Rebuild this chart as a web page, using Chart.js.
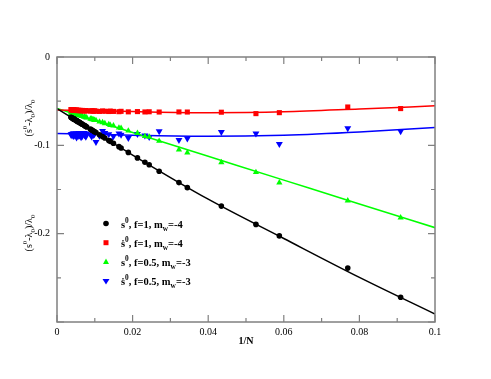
<!DOCTYPE html>
<html lang="en">
<head>
<meta charset="UTF-8">
<title>Relative shift vs 1/N</title>
<script src="https://cdn.jsdelivr.net/npm/chart.js"></script>
<style>
  body { margin: 0; background: #fff; }
  #chart { display: block; }
</style>
</head>
<body>
<canvas id="chart" width="491" height="379"></canvas>
<script>
// x = 1/N for the simulated sizes (N = 11, 13, 17, ... 271)
const invN = [
  0.09091, 0.07692, 0.05882, 0.05263, 0.04348, 0.03448, 0.03226, 0.02703,
  0.02439, 0.02326, 0.02128, 0.01887, 0.01695, 0.01639, 0.01493, 0.01408,
  0.01370, 0.01266, 0.01205, 0.01124, 0.01031, 0.00990, 0.00971, 0.00935,
  0.00917, 0.00885, 0.00787, 0.00763, 0.00730, 0.00719, 0.00671, 0.00662,
  0.00637, 0.00613, 0.00599, 0.00578, 0.00559, 0.00552, 0.00524, 0.00518,
  0.00508, 0.00503, 0.00474, 0.00448, 0.00441, 0.00437, 0.00429, 0.00418,
  0.00398, 0.00380, 0.00369
];

// s0, f=1, mw=-4
const sBlack = [
  -0.2720, -0.2390, -0.2025, -0.1895, -0.1688, -0.1479, -0.1422, -0.1294,
  -0.1220, -0.1192, -0.1142, -0.1080, -0.1030, -0.1015, -0.0977, -0.0955,
  -0.0945, -0.0917, -0.0901, -0.0880, -0.0856, -0.0845, -0.0840, -0.0830,
  -0.0826, -0.0817, -0.0792, -0.0785, -0.0777, -0.0774, -0.0761, -0.0759,
  -0.0752, -0.0746, -0.0742, -0.0737, -0.0732, -0.0730, -0.0723, -0.0721,
  -0.0718, -0.0717, -0.0709, -0.0703, -0.0701, -0.0700, -0.0698, -0.0695,
  -0.0690, -0.0685, -0.0682
];

// s-dot0, f=1, mw=-4
const sRed = [
  -0.0584, -0.0566, -0.0630, -0.0641, -0.0625, -0.0623, -0.0622, -0.0623,
  -0.0620, -0.0622, -0.0618, -0.0621, -0.0615, -0.0619, -0.0616, -0.0612,
  -0.0617, -0.0614, -0.0611, -0.0616, -0.0613, -0.0609, -0.0614, -0.0611,
  -0.0608, -0.0612, -0.0610, -0.0606, -0.0611, -0.0608, -0.0605, -0.0609,
  -0.0607, -0.0604, -0.0608, -0.0605, -0.0603, -0.0607, -0.0604, -0.0601,
  -0.0605, -0.0603, -0.0600, -0.0603, -0.0599, -0.0602, -0.0598, -0.0601,
  -0.0597, -0.0599, -0.0595
];

// s0, f=0.5, mw=-3
const sGreen = [
  -0.1819, -0.1626, -0.1422, -0.1305, -0.1193, -0.1083, -0.1049, -0.0951,
  -0.0905, -0.0897, -0.0862, -0.0835, -0.0806, -0.0801, -0.0778, -0.0772,
  -0.0762, -0.0752, -0.0740, -0.0733, -0.0716, -0.0715, -0.0709, -0.0708,
  -0.0701, -0.0700, -0.0686, -0.0684, -0.0677, -0.0679, -0.0669, -0.0671,
  -0.0665, -0.0663, -0.0660, -0.0659, -0.0655, -0.0657, -0.0651, -0.0652,
  -0.0648, -0.0650, -0.0644, -0.0643, -0.0640, -0.0642, -0.0638, -0.0639,
  -0.0635, -0.0634, -0.0630
];

// s-dot0, f=0.5, mw=-3
const sBlue = [
  -0.0841, -0.0807, -0.0985, -0.0867, -0.0849, -0.0924, -0.0940, -0.0841,
  -0.0905, -0.0888, -0.0872, -0.0917, -0.0879, -0.0865, -0.0898, -0.0943,
  -0.0874, -0.0859, -0.0838, -0.0892, -0.0963, -0.0871, -0.0884, -0.0856,
  -0.0899, -0.0878, -0.0867, -0.0902, -0.0885, -0.0861, -0.0893, -0.0876,
  -0.0908, -0.0869, -0.0888, -0.0859, -0.0895, -0.0880, -0.0870, -0.0912,
  -0.0884, -0.0866, -0.0890, -0.0877, -0.0895, -0.0864, -0.0881, -0.0870,
  -0.0889, -0.0873, -0.0880
];

// fitted curves at these x
const fitX = [0, 0.02, 0.04, 0.06, 0.08, 0.1];
const fitBlack = [-0.0585, -0.1110, -0.1610, -0.2055, -0.2495, -0.2910];
const fitRed = [-0.0600, -0.0618, -0.0630, -0.0620, -0.0588, -0.0553];
const fitGreen = [-0.0584, -0.0854, -0.1124, -0.1394, -0.1664, -0.1932];
const fitBlue = [-0.0865, -0.0885, -0.0898, -0.0885, -0.0848, -0.0797];

const axisGrey = "#808080";
const serif = "'Liberation Serif', 'DejaVu Serif', serif";

Chart.defaults.font.family = serif;
Chart.defaults.font.size = 10;
Chart.defaults.color = "#000";

function pts(ys) {
  return invN.map((x, i) => ({ x: x, y: ys[i] }));
}
function fitPts(ys) {
  return fitX.map((x, i) => ({ x: x, y: ys[i] }));
}

// parts: [text, shift] where shift 1 = superscript, -1 = subscript
function richWidth(ctx, parts, size, weight) {
  let w = 0;
  parts.forEach(([t, s]) => {
    ctx.font = weight + " " + (s ? size * 0.7 : size) + "px " + serif;
    w += ctx.measureText(t).width;
  });
  return w;
}
function richText(ctx, parts, x, y, size, weight) {
  ctx.textBaseline = "alphabetic";
  ctx.textAlign = "left";
  parts.forEach(([t, s]) => {
    const fs = s ? size * 0.7 : size;
    ctx.font = weight + " " + fs + "px " + serif;
    const dy = s === 1 ? -size * 0.45 : s === -1 ? size * 0.3 : 0;
    ctx.fillText(t, x, y + dy);
    x += ctx.measureText(t).width;
  });
}

function marker(ctx, kind, color, x, y) {
  ctx.fillStyle = color;
  ctx.beginPath();
  if (kind === "circle") {
    ctx.arc(x, y, 2.8, 0, Math.PI * 2);
  } else if (kind === "rect") {
    ctx.rect(x - 2.5, y - 2.5, 5, 5);
  } else if (kind === "up") {
    ctx.moveTo(x, y - 3.5); ctx.lineTo(x + 3, y + 2); ctx.lineTo(x - 3, y + 2);
  } else {
    ctx.moveTo(x, y + 3.5); ctx.lineTo(x + 3.5, y - 2.2); ctx.lineTo(x - 3.5, y - 2.2);
  }
  ctx.closePath();
  ctx.fill();
}

const legendRows = [
  { kind: "circle", color: "#000000", parts: [["s", 0], ["0", 1], [", f=1, m", 0], ["w", -1], ["=-4", 0]] },
  { kind: "rect", color: "#ff0000", parts: [["\u1e61", 0], ["0", 1], [", f=1, m", 0], ["w", -1], ["=-4", 0]] },
  { kind: "up", color: "#00ff00", parts: [["s", 0], ["0", 1], [", f=0.5, m", 0], ["w", -1], ["=-3", 0]] },
  { kind: "down", color: "#0000ff", parts: [["\u1e61", 0], ["0", 1], [", f=0.5, m", 0], ["w", -1], ["=-3", 0]] }
];

const framePlugin = {
  id: "frame",
  afterDatasetsDraw(chart) {
    const { ctx, chartArea: a, scales: { x, y } } = chart;
    ctx.save();
    ctx.strokeStyle = axisGrey;
    ctx.lineWidth = 1.5;
    ctx.strokeRect(a.left, a.top, a.right - a.left, a.bottom - a.top);

    // inward ticks on all four sides, minor ticks halfway between majors
    const drawTicks = (scale, horizontal) => {
      const major = scale.ticks.map(t => t.value);
      const minor = [];
      for (let i = 1; i < major.length; i++) minor.push((major[i - 1] + major[i]) / 2);
      const one = (v, len) => {
        const p = scale.getPixelForValue(v);
        ctx.beginPath();
        if (horizontal) {
          ctx.moveTo(p, a.bottom); ctx.lineTo(p, a.bottom - len);
          ctx.moveTo(p, a.top); ctx.lineTo(p, a.top + len);
        } else {
          ctx.moveTo(a.left, p); ctx.lineTo(a.left + len, p);
          ctx.moveTo(a.right, p); ctx.lineTo(a.right - len, p);
        }
        ctx.stroke();
      };
      major.forEach(v => one(v, 7));
      minor.forEach(v => one(v, 4));
    };
    ctx.lineWidth = 1.2;
    drawTicks(x, true);
    drawTicks(y, false);

    // x title
    ctx.fillStyle = "#000";
    ctx.font = "bold 10px " + serif;
    ctx.textAlign = "center";
    ctx.textBaseline = "middle";
    ctx.fillText("1/N", (a.left + a.right) / 2, a.bottom + 19);

    // stacked y titles
    const yTitles = [
      { cy: a.top + 61, parts: [["(\u1e61", 0], ["0", 1], ["-\u03bb", 0], ["0", -1], [")/\u03bb", 0], ["0", -1]] },
      { cy: a.top + 176, parts: [["(s", 0], ["0", 1], ["-\u03bb", 0], ["0", -1], [")/\u03bb", 0], ["0", -1]] }
    ];
    yTitles.forEach(t => {
      const w = richWidth(ctx, t.parts, 10, "normal");
      ctx.save();
      ctx.translate(28, t.cy);
      ctx.rotate(-Math.PI / 2);
      ctx.fillStyle = "#000";
      richText(ctx, t.parts, -w / 2, 3.5, 10, "normal");
      ctx.restore();
    });

    // legend inside the plot, lower left
    legendRows.forEach((r, i) => {
      const cy = a.top + 166.5 + i * 19.2;
      marker(ctx, r.kind, r.color, a.left + 49, cy);
      ctx.fillStyle = "#000";
      richText(ctx, r.parts, a.left + 64, cy + 4, 10.5, "bold");
    });
    ctx.restore();
  }
};

const scatterSet = (ys, color, style, radius, rotation) => ({
  type: "scatter",
  data: pts(ys),
  showLine: false,
  backgroundColor: color,
  borderColor: color,
  pointStyle: style,
  pointRadius: radius,
  pointRotation: rotation || 0,
  pointBorderWidth: 0
});

const fitSet = (ys, color) => ({
  type: "line",
  data: fitPts(ys),
  borderColor: color,
  borderWidth: 1.5,
  pointRadius: 0,
  fill: false,
  cubicInterpolationMode: "monotone"
});

new Chart(document.getElementById("chart"), {
  data: {
    datasets: [
      scatterSet(sBlack, "#000000", "circle", 2.8),
      scatterSet(sRed, "#ff0000", "rect", 3.6),
      scatterSet(sGreen, "#00ff00", "triangle", 3.6),
      scatterSet(sBlue, "#0000ff", "triangle", 4, 180),
      fitSet(fitBlack, "#000000"),
      fitSet(fitRed, "#ff0000"),
      fitSet(fitGreen, "#00ff00"),
      fitSet(fitBlue, "#0000ff")
    ]
  },
  options: {
    responsive: false,
    animation: false,
    layout: { padding: { left: 0, right: 56, top: 57, bottom: 27 } },
    plugins: {
      legend: { display: false },
      tooltip: { enabled: false }
    },
    scales: {
      x: {
        type: "linear",
        min: 0,
        max: 0.1,
        grid: { display: false, drawTicks: false },
        border: { display: false },
        ticks: {
          stepSize: 0.02,
          padding: 4,
          maxRotation: 0,
          callback: v => String(+v.toFixed(2))
        },
        afterFit: s => { s.height = 30; }
      },
      y: {
        type: "linear",
        min: -0.3,
        max: 0,
        grid: { display: false, drawTicks: false },
        border: { display: false },
        ticks: {
          stepSize: 0.1,
          padding: 7,
          callback: v => (Math.abs(v + 0.3) < 1e-9 ? "" : String(+v.toFixed(1)))
        },
        afterFit: s => { s.width = 57; }
      }
    }
  },
  plugins: [framePlugin]
});
</script>
</body>
</html>
